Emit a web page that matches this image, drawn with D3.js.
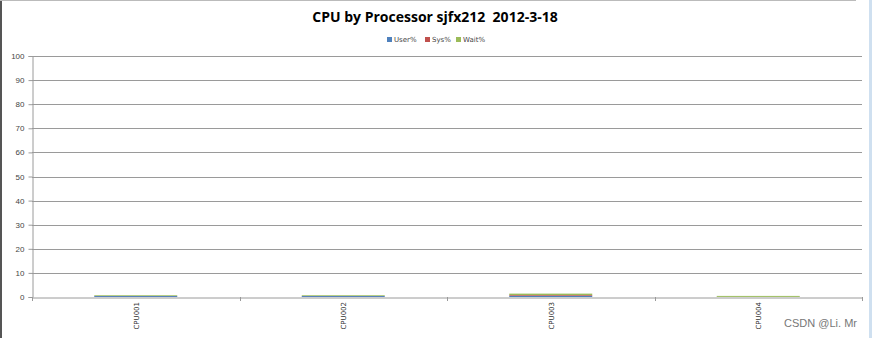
<!DOCTYPE html>
<html lang="en">
  <head>
    <meta charset="utf-8" />
    <title>CPU by Processor</title>
    <style>
      body {
        margin: 0;
        background-color: #fff;
        overflow: hidden;
      }
      svg {
        display: block;
      }
    </style>
  </head>
  <body>
    <div class="container"></div>
    <script src="https://cdn.jsdelivr.net/npm/d3@7"></script>
    <script>
      // Data
      const categories = ['CPU001', 'CPU002', 'CPU003', 'CPU004'];
      const userPct = [0.4, 0.4, 0.5, 0.05];
      const sysPct = [0.02, 0.02, 0.3, 0.0];
      const waitPct = [0.3, 0.3, 0.6, 0.4];
      const seriesNames = ['User%', 'Sys%', 'Wait%'];
      const seriesColors = ['#4F81BD', '#C0504D', '#9BBB59'];
      const yTicks = [0, 10, 20, 30, 40, 50, 60, 70, 80, 90, 100];

      const width = 872;
      const height = 338;
      const margin = { top: 56, right: 10, bottom: 41, left: 32 };

      const rows = categories.map((c, i) => ({
        cat: c,
        'User%': userPct[i],
        'Sys%': sysPct[i],
        'Wait%': waitPct[i],
      }));
      const stacked = d3.stack().keys(seriesNames)(rows);

      const svg = d3
        .select('div.container')
        .append('svg')
        .attr('width', width)
        .attr('height', height)
        .style('font-family', "'DejaVu Sans', Verdana, sans-serif");

      // frame edges like the screenshot
      svg.append('rect').attr('x', 0).attr('y', 0).attr('width', 2).attr('height', height).attr('fill', '#555');
      svg.append('line').attr('x1', 0).attr('x2', 856).attr('y1', 0.5).attr('y2', 0.5).attr('stroke', '#bbb');
      svg.append('rect').attr('x', 869).attr('y', 0).attr('width', 3).attr('height', height).attr('fill', '#cfe0f0');

      const x = d3
        .scaleBand()
        .domain(categories)
        .range([margin.left, width - margin.right])
        .paddingInner(0)
        .paddingOuter(0);
      const y = d3
        .scaleLinear()
        .domain([0, 100])
        .range([height - margin.bottom, margin.top]);

      // gridlines
      svg
        .append('g')
        .selectAll('line')
        .data(yTicks.filter((d) => d > 0))
        .join('line')
        .attr('x1', margin.left)
        .attr('x2', width - margin.right)
        .attr('y1', (d) => Math.round(y(d)) + 0.5)
        .attr('y2', (d) => Math.round(y(d)) + 0.5)
        .attr('stroke', '#9a9a9a')
        .attr('stroke-width', 1);

      // y axis
      svg
        .append('g')
        .attr('transform', `translate(${margin.left + 0.5},0)`)
        .call(d3.axisLeft(y).tickValues(yTicks).tickSize(4).tickPadding(4))
        .call((g) => g.selectAll('path,line').attr('stroke', '#9a9a9a'))
        .call((g) =>
          g.selectAll('text').attr('fill', '#444').style('font-size', '8px'),
        );

      // bars
      const bw = x.bandwidth() * 0.4;
      svg
        .append('g')
        .selectAll('g')
        .data(stacked)
        .join('g')
        .attr('fill', (d, i) => seriesColors[i])
        .selectAll('rect')
        .data((d) => d)
        .join('rect')
        .attr('x', (d) => x(d.data.cat) + (x.bandwidth() - bw) / 2)
        .attr('width', bw)
        .attr('y', (d) => y(d[1]))
        .attr('height', (d) => Math.max(0, y(d[0]) - y(d[1])));

      // x axis
      svg
        .append('g')
        .attr('transform', `translate(0,${y(0) + 0.5})`)
        .call(d3.axisBottom(x).tickSize(0).tickFormat(''))
        .call((g) => g.select('path').attr('stroke', '#9a9a9a'));
      svg
        .append('g')
        .selectAll('line')
        .data(categories.concat(['end']))
        .join('line')
        .attr('x1', (d, i) => Math.round(margin.left + i * x.bandwidth()) + 0.5)
        .attr('x2', (d, i) => Math.round(margin.left + i * x.bandwidth()) + 0.5)
        .attr('y1', y(0))
        .attr('y2', y(0) + 4)
        .attr('stroke', '#9a9a9a');

      svg
        .append('g')
        .selectAll('text')
        .data(categories)
        .join('text')
        .attr(
          'transform',
          (d) => `translate(${x(d) + x.bandwidth() / 2 + 3},${y(0) + 5}) rotate(-90)`,
        )
        .attr('text-anchor', 'end')
        .attr('fill', '#333')
        .style('font-size', '7px')
        .text((d) => d);

      // title
      svg
        .append('text')
        .attr('x', 435)
        .attr('y', 22)
        .attr('text-anchor', 'middle')
        .style('white-space', 'pre')
        .style('font-family', "'Open Sans', 'Liberation Sans', sans-serif")
        .style('font-weight', 'bold')
        .style('font-size', '14px')
        .attr('fill', '#000')
        .text('CPU by Processor sjfx212  2012-3-18');

      // legend
      const legendX = [387, 425, 456];
      const legend = svg
        .append('g')
        .selectAll('g')
        .data(seriesNames)
        .join('g')
        .attr('transform', (d, i) => `translate(${legendX[i]},40)`);
      legend
        .append('rect')
        .attr('x', 0)
        .attr('y', -3)
        .attr('width', 5)
        .attr('height', 5)
        .attr('fill', (d, i) => seriesColors[i]);
      legend
        .append('text')
        .attr('x', 7)
        .attr('y', 2)
        .attr('fill', '#444')
        .style('font-size', '7px')
        .text((d) => d);

      // watermark
      svg
        .append('text')
        .attr('x', 857)
        .attr('y', 327)
        .attr('text-anchor', 'end')
        .attr('fill', '#777')
        .style('font-family', "'Liberation Sans', Arial, sans-serif")
        .style('font-size', '11px')
        .text('CSDN @Li. Mr');
    </script>
  </body>
</html>
